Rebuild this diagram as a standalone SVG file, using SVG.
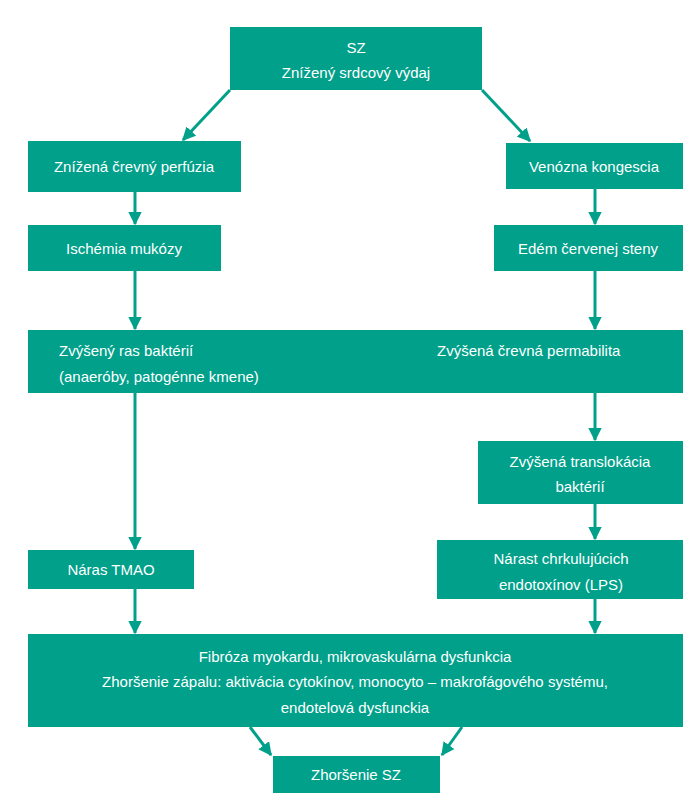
<svg xmlns="http://www.w3.org/2000/svg" width="696" height="800" viewBox="0 0 696 800">
<style>
.b{fill:#00a08a}
text{fill:#fff;font-family:"Liberation Sans",Arial,sans-serif;font-size:15px;text-anchor:middle}
.l{text-anchor:start}
.c{stroke:#00a08a;stroke-width:3;fill:none}
</style>
<defs><marker id="a" viewBox="0 0 10 10" refX="9" refY="5" markerWidth="4.5" markerHeight="4.5" orient="auto" markerUnits="strokeWidth"><path d="M0,0L10,5L0,10z" fill="#00a08a"/></marker></defs>
<rect width="696" height="800" fill="#fff"/>
<g id="connectors" class="c">
<path d="M230,90L183,140" marker-end="url(#a)"/>
<path d="M482,90L530,141" marker-end="url(#a)"/>
<path d="M135,192V224" marker-end="url(#a)"/>
<path d="M595,189V224" marker-end="url(#a)"/>
<path d="M135,271V329" marker-end="url(#a)"/>
<path d="M595,271V329" marker-end="url(#a)"/>
<path d="M595,393V440" marker-end="url(#a)"/>
<path d="M595,504V539" marker-end="url(#a)"/>
<path d="M135,393V549" marker-end="url(#a)"/>
<path d="M135,589V633" marker-end="url(#a)"/>
<path d="M595,599V633" marker-end="url(#a)"/>
<path d="M250,727L271,755" marker-end="url(#a)"/>
<path d="M462,727L442,755" marker-end="url(#a)"/>
</g>
<g id="n1"><rect class="b" x="230" y="27" width="252" height="63"/><text x="356" y="53">SZ</text><text x="356" y="78">Znížený srdcový výdaj</text></g>
<g id="n2"><rect class="b" x="28" y="141" width="213" height="51"/><text x="134" y="172">Znížená črevný perfúzia</text></g>
<g id="n3"><rect class="b" x="506" y="143" width="177" height="46"/><text x="594" y="172">Venózna kongescia</text></g>
<g id="n4"><rect class="b" x="28" y="225" width="193" height="46"/><text x="124" y="254">Ischémia mukózy</text></g>
<g id="n5"><rect class="b" x="494" y="225" width="189" height="46"/><text x="588" y="254">Edém červenej steny</text></g>
<g id="n6"><rect class="b" x="28" y="330" width="655" height="63"/><text class="l" x="59" y="356">Zvýšený ras baktérií</text><text class="l" x="59" y="382">(anaeróby, patogénne kmene)</text><text class="l" x="437" y="356">Zvýšená črevná permabilita</text></g>
<g id="n7"><rect class="b" x="478" y="441" width="205" height="63"/><text x="580" y="467">Zvýšená translokácia</text><text x="580" y="492">baktérií</text></g>
<g id="n8"><rect class="b" x="437" y="540" width="246" height="59"/><text x="561" y="564">Nárast chrkulujúcich</text><text x="561" y="590">endotoxínov (LPS)</text></g>
<g id="n9"><rect class="b" x="28" y="550" width="166" height="39"/><text x="111" y="575">Náras TMAO</text></g>
<g id="n10"><rect class="b" x="28" y="634" width="655" height="93"/><text x="355" y="662">Fibróza myokardu, mikrovaskulárna dysfunkcia</text><text x="355" y="687">Zhoršenie zápalu: aktivácia cytokínov, monocyto – makrofágového systému,</text><text x="355" y="713">endotelová dysfunckia</text></g>
<g id="n11"><rect class="b" x="273" y="756" width="167" height="37"/><text x="356" y="780">Zhoršenie SZ</text></g>
</svg>
